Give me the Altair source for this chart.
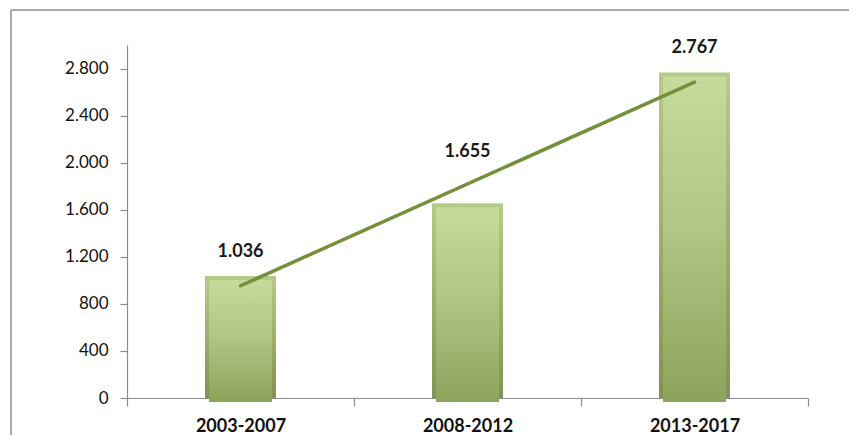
import json
import altair as alt
import pandas as pd

categories = ["2003-2007", "2008-2012", "2013-2017"]
values = [1036, 1655, 2767]
y_ticks = [0, 400, 800, 1200, 1600, 2000, 2400, 2800]
title_text = "Promedios quinquenales. 2003 – 2017"
raised_label = "2008-2012"  # label moved up above the trend line

df = pd.DataFrame({"periodo": categories, "valor": values})

FONT = "Lato"
W, H = 681, 353

xscale = alt.Scale(domain=categories, paddingInner=0, paddingOuter=0)
yscale = alt.Scale(domain=[0, 3000], nice=False, zero=True)

x_enc = alt.X(
    "periodo:N", scale=xscale, sort=categories,
    axis=alt.Axis(
        title=None, labelAngle=0, tickBand="extent", tickSize=8,
        labelPadding=11, labelFont=FONT, labelFontSize=18,
        labelFontWeight="bold", labelColor="#111111",
        domainColor="#8c8c8c", tickColor="#8c8c8c", domainWidth=1.2,
        tickWidth=1.2, grid=False,
    ),
)
y_enc = alt.Y(
    "valor:Q", scale=yscale,
    axis=alt.Axis(
        title=None, values=y_ticks, tickSize=7, labelPadding=12,
        labelFont=FONT, labelFontSize=17, labelColor="#111111",
        labelExpr="replace(format(datum.value, ','), ',', '.')",
        domainColor="#8c8c8c", tickColor="#8c8c8c", domainWidth=1.2,
        tickWidth=1.2, grid=False,
    ),
)

base = alt.Chart(df)

outer_grad = alt.Gradient(
    gradient="linear", x1=0, x2=0, y1=0, y2=1,
    stops=[alt.GradientStop(offset=0, color="#B5CB88"),
           alt.GradientStop(offset=1, color="#7E9450")],
)
inner_grad = alt.Gradient(
    gradient="linear", x1=0, x2=0, y1=0, y2=1,
    stops=[alt.GradientStop(offset=0, color="#C6DA9C"),
           alt.GradientStop(offset=0.45, color="#B0C785"),
           alt.GradientStop(offset=1, color="#8DA35C")],
)

bars_outer = base.mark_bar(size=71, color=outer_grad).encode(x=x_enc, y=y_enc)
bars_inner = base.mark_bar(size=63, color=inner_grad, yOffset=4).encode(
    x=alt.X("periodo:N", scale=xscale, sort=categories),
    y=alt.Y("valor:Q", scale=yscale),
)

cat_json = json.dumps(categories)
trend = (
    base.transform_window(idx="row_number()")
    .transform_regression("idx", "valor", method="linear")
    .transform_calculate(periodo=f"{cat_json}[round(datum.idx) - 1]")
    .mark_line(color="#74903A", strokeWidth=3.5, strokeCap="round")
    .encode(
        x=alt.X("periodo:N", scale=xscale, sort=categories),
        y=alt.Y("valor:Q", scale=yscale),
    )
)

label_enc = dict(
    x=alt.X("periodo:N", scale=xscale, sort=categories),
    y=alt.Y("valor:Q", scale=yscale),
    text="lbl:N",
)
label_style = dict(baseline="alphabetic", font=FONT, fontSize=18,
                   fontWeight="bold", color="#1a1a1a")
lbl_base = base.transform_calculate(
    lbl="replace(format(datum.valor, ','), ',', '.')"
)
labels_normal = (
    lbl_base.transform_filter(alt.datum.periodo != raised_label)
    .mark_text(dy=-19, **label_style)
    .encode(**label_enc)
)
labels_raised = (
    lbl_base.transform_filter(alt.datum.periodo == raised_label)
    .mark_text(dy=-46, **label_style)
    .encode(**label_enc)
)

one = alt.Chart(pd.DataFrame({"k": [0]}))
frame_left = one.mark_rule(color="#8c8c8c", strokeWidth=1.5).encode(
    x=alt.value(-116), y=alt.value(-35), y2=alt.value(400)
)
frame_top = one.mark_rule(color="#8c8c8c", strokeWidth=1.5).encode(
    x=alt.value(-116), x2=alt.value(740), y=alt.value(-35)
)
title = one.transform_calculate(t=json.dumps(title_text)).mark_text(
    font=FONT, fontSize=18, fontWeight="bold", color="#111111",
    baseline="alphabetic", align="center",
).encode(x=alt.value(332), y=alt.value(-40), text="t:N")

chart = (
    alt.layer(frame_left, frame_top, title, bars_outer, bars_inner, trend,
              labels_normal, labels_raised)
    .properties(
        width=W, height=H,
        autosize=alt.AutoSizeParams(type="none"),
        padding={"left": 119, "top": 37, "right": 41, "bottom": 37},
        background="white",
    )
    .configure_view(stroke=None)
)

chart.save("out.html", embed_options={"renderer": "svg", "actions": False})
